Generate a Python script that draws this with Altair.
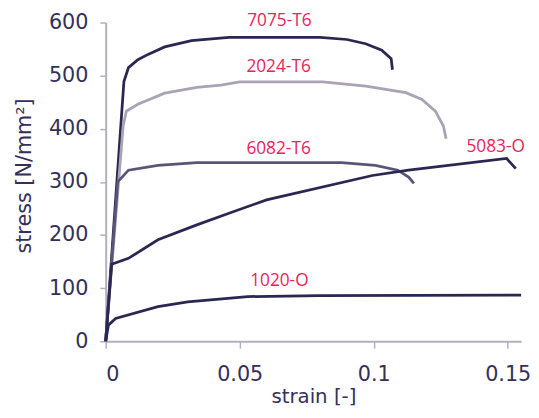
import altair as alt
import pandas as pd

# strain / stress curves
alloys = ["7075-T6", "2024-T6", "6082-T6", "5083-O", "1020-O"]

s7075_x = [0, 0.0068, 0.0085, 0.012, 0.0158, 0.022, 0.032, 0.046, 0.080, 0.090, 0.097, 0.103, 0.1065, 0.107]
s7075_y = [0, 489, 515, 530, 540, 554, 566, 572, 572, 568, 560, 548, 532, 511]

s2024_x = [0, 0.0065, 0.0077, 0.012, 0.022, 0.034, 0.043, 0.050, 0.081, 0.097, 0.112, 0.118, 0.123, 0.126, 0.127]
s2024_y = [0, 405, 433, 446, 467, 478, 482, 488, 488, 480, 468, 455, 433, 405, 381]

s6082_x = [0, 0.0045, 0.0085, 0.0195, 0.034, 0.088, 0.1006, 0.109, 0.113, 0.115]
s6082_y = [0, 300, 322, 331, 336, 336, 331, 322, 309, 297]

s5083_x = [0, 0.0022, 0.0085, 0.0195, 0.034, 0.046, 0.060, 0.0995, 0.113, 0.1496, 0.153]
s5083_y = [0, 145, 156, 191, 219, 241, 266, 312, 322, 344, 325]

s1020_x = [0, 0.001, 0.0037, 0.0195, 0.0306, 0.053, 0.0796, 0.155]
s1020_y = [0, 30, 43, 65, 74, 84, 86, 87]

label_x = [0.0648, 0.0645, 0.0645, 0.1455, 0.0648]
label_y = [594, 506, 352, 357, 104]

colors = ["#2a2852", "#aaa3b4", "#5b5478", "#2a2852", "#2a2852"]

xs = [s7075_x, s2024_x, s6082_x, s5083_x, s1020_x]
ys = [s7075_y, s2024_y, s6082_y, s5083_y, s1020_y]

rows = []
for name, xx, yy in zip(alloys, xs, ys):
    for i, (a, b) in enumerate(zip(xx, yy)):
        rows.append({"alloy": name, "strain": a, "stress": b, "order": i})
df = pd.DataFrame(rows)
labels = pd.DataFrame({"alloy": alloys, "strain": label_x, "stress": label_y})

xscale = alt.Scale(domain=[0, 0.155], nice=False, zero=True)
yscale = alt.Scale(domain=[0, 600], nice=False)

lines = alt.Chart(df).mark_line(strokeWidth=2.8, clip=False).encode(
    x=alt.X("strain:Q", scale=xscale,
            axis=alt.Axis(title="strain [-]", values=[0, 0.05, 0.1, 0.15],
                          format="~g", tickSize=7, labelPadding=16,
                          titlePadding=2, titleFontSize=20)),
    y=alt.Y("stress:Q", scale=yscale,
            axis=alt.Axis(title="stress [N/mm²]", values=[0, 100, 200, 300, 400, 500, 600],
                          tickSize=6, labelPadding=12, titlePadding=14, titleY=155)),
    color=alt.Color("alloy:N", scale=alt.Scale(domain=alloys, range=colors), legend=None),
    order="order:Q",
)

texts = alt.Chart(labels).mark_text(
    font="Open Sans", fontSize=17.5, color="#e8245c", baseline="alphabetic", align="center", clip=False
).encode(
    x=alt.X("strain:Q", scale=xscale),
    y=alt.Y("stress:Q", scale=yscale),
    text="alloy:N",
)

chart = (lines + texts).properties(
    width=421, height=323,
    autosize=alt.AutoSizeParams(type="none"),
    padding={"left": 99, "top": 12, "right": 10, "bottom": 67},
).configure_view(stroke=None).configure_axis(
    grid=False,
    domainColor="#b5aec0",
    domainWidth=2,
    tickColor="#b5aec0",
    tickWidth=1.5,
    labelFont="DejaVu Sans",
    labelFontSize=21,
    labelColor="#34305a",
    titleFont="DejaVu Sans",
    titleFontSize=21,
    titleFontWeight="normal",
    titleColor="#34305a",
)

chart.save("out.html", embed_options={"renderer": "svg", "actions": False})
